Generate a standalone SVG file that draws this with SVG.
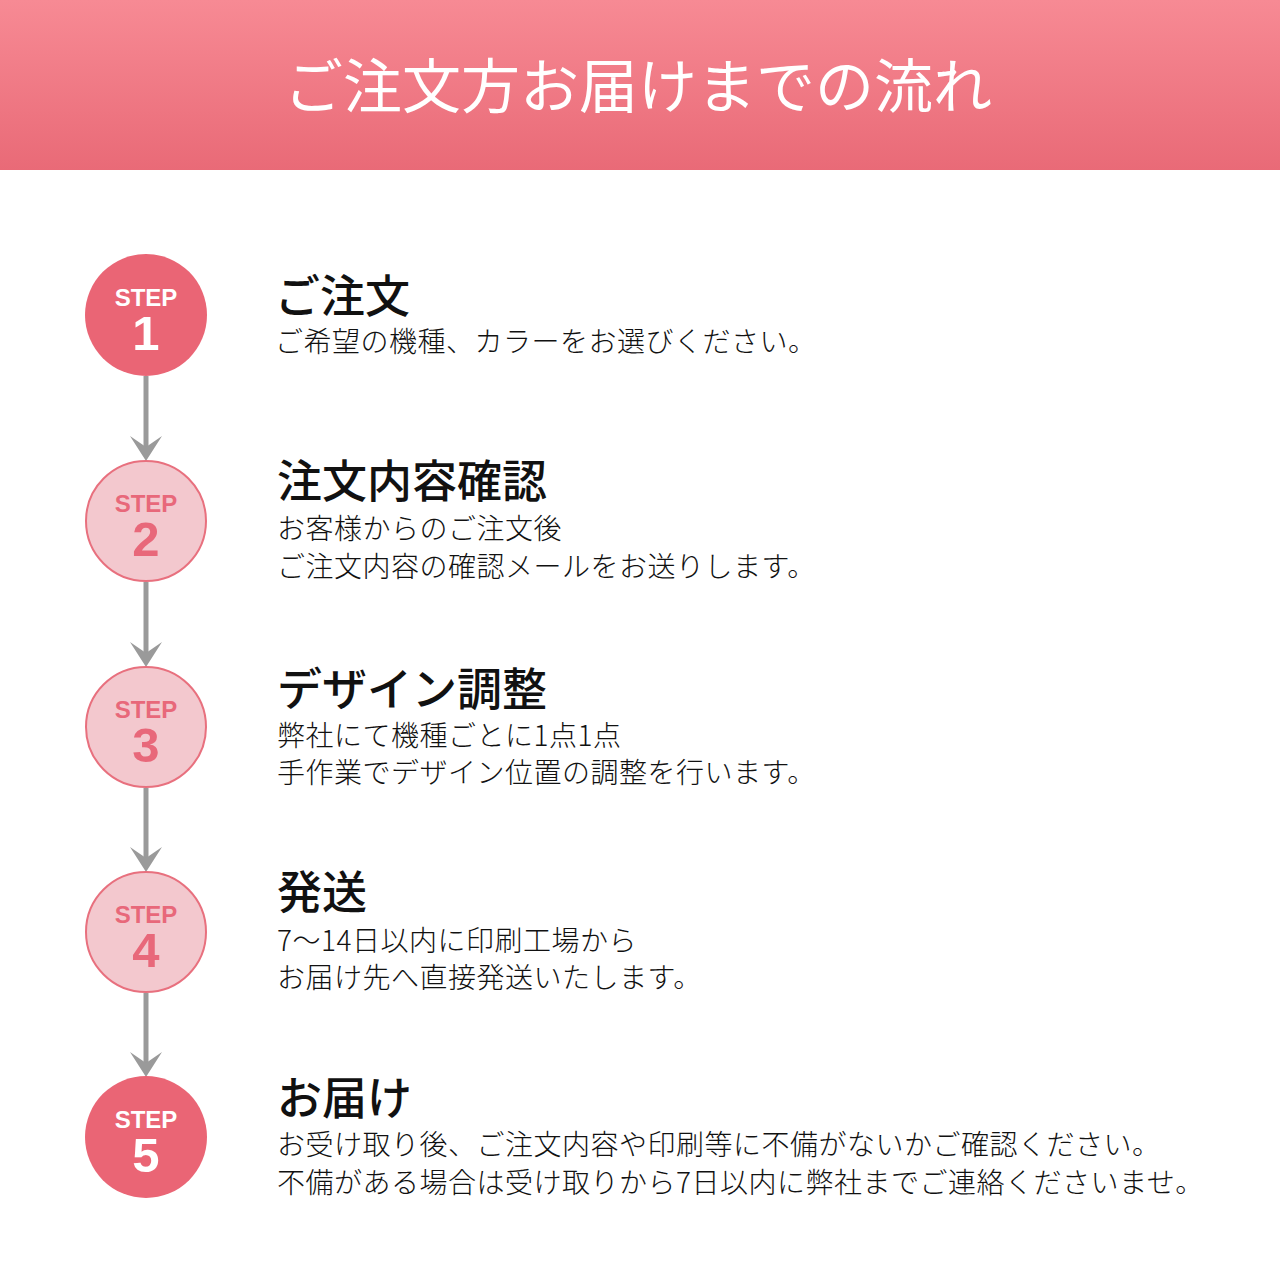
<svg xmlns="http://www.w3.org/2000/svg" width="1280" height="1280" viewBox="0 0 1280 1280">
<defs>
<linearGradient id="hdr" x1="0" y1="0" x2="0" y2="1">
<stop offset="0" stop-color="#f78a94"/>
<stop offset="1" stop-color="#e96a77"/>
</linearGradient>
<style>
.jp{font-family:"Noto Sans CJK JP","Noto Sans",sans-serif;}
.ttl{font-size:45px;font-weight:500;fill:#111;}
.dsc{font-size:28px;font-weight:300;fill:#111;letter-spacing:0.5px;}
.step{font-family:"Liberation Sans",Arial,sans-serif;font-weight:bold;text-anchor:middle;}
.s1{font-size:24px;}
.n1{font-size:49px;}
.on .c{fill:#ea6575;}
.on .step{fill:#fff;}
.off .c{fill:#f3c8ce;stroke:#e8707e;stroke-width:2;}
.off .step{fill:#e8687a;}
.ln{stroke:#9a9a9a;stroke-width:5;fill:none;}
.ah{fill:#9a9a9a;}
</style>
</defs>
<rect x="0" y="0" width="1280" height="1280" fill="#fff"/>
<g id="header">
<rect x="0" y="0" width="1280" height="170" fill="url(#hdr)"/>
<text class="jp" x="638" y="108" text-anchor="middle" font-size="59" fill="#fff" font-weight="400">ご注文方お届けまでの流れ</text>
</g>
<g id="connectors">
<line class="ln" x1="146" y1="376" x2="146" y2="448"/>
<path class="ah" d="M130,436 L146,447 L162,436 L146,461 Z"/>
<line class="ln" x1="146" y1="582" x2="146" y2="654"/>
<path class="ah" d="M130,642 L146,653 L162,642 L146,667 Z"/>
<line class="ln" x1="146" y1="788" x2="146" y2="859"/>
<path class="ah" d="M130,847 L146,858 L162,847 L146,872 Z"/>
<line class="ln" x1="146" y1="993" x2="146" y2="1064"/>
<path class="ah" d="M130,1052 L146,1063 L162,1052 L146,1077 Z"/>
</g>
<g id="step1" class="on">
<circle class="c" cx="146" cy="315" r="61"/>
<text class="step s1" x="146" y="306">STEP</text>
<text class="step n1" x="146" y="350">1</text>
<text class="jp ttl" x="275" y="313">ご注文</text>
<text class="jp dsc" x="275" y="352">ご希望の機種、カラーをお選びください。</text>
</g>
<g id="step2" class="off">
<circle class="c" cx="146" cy="521" r="60"/>
<text class="step s1" x="146" y="512">STEP</text>
<text class="step n1" x="146" y="556">2</text>
<text class="jp ttl" x="277" y="498">注文内容確認</text>
<text class="jp dsc" x="277" y="539">お客様からのご注文後</text>
<text class="jp dsc" x="277" y="577">ご注文内容の確認メールをお送りします。</text>
</g>
<g id="step3" class="off">
<circle class="c" cx="146" cy="727" r="60"/>
<text class="step s1" x="146" y="718">STEP</text>
<text class="step n1" x="146" y="762">3</text>
<text class="jp ttl" x="277" y="706">デザイン調整</text>
<text class="jp dsc" x="277" y="746">弊社にて機種ごとに1点1点</text>
<text class="jp dsc" x="277" y="783">手作業でデザイン位置の調整を行います。</text>
</g>
<g id="step4" class="off">
<circle class="c" cx="146" cy="932" r="60"/>
<text class="step s1" x="146" y="923">STEP</text>
<text class="step n1" x="146" y="967">4</text>
<text class="jp ttl" x="277" y="909">発送</text>
<text class="jp dsc" x="277" y="951">7〜14日以内に印刷工場から</text>
<text class="jp dsc" x="277" y="988">お届け先へ直接発送いたします。</text>
</g>
<g id="step5" class="on">
<circle class="c" cx="146" cy="1137" r="61"/>
<text class="step s1" x="146" y="1128">STEP</text>
<text class="step n1" x="146" y="1172">5</text>
<text class="jp ttl" x="277" y="1115">お届け</text>
<text class="jp dsc" x="277" y="1155">お受け取り後、ご注文内容や印刷等に不備がないかご確認ください。</text>
<text class="jp dsc" x="277" y="1193">不備がある場合は受け取りから7日以内に弊社までご連絡くださいませ。</text>
</g>
</svg>
